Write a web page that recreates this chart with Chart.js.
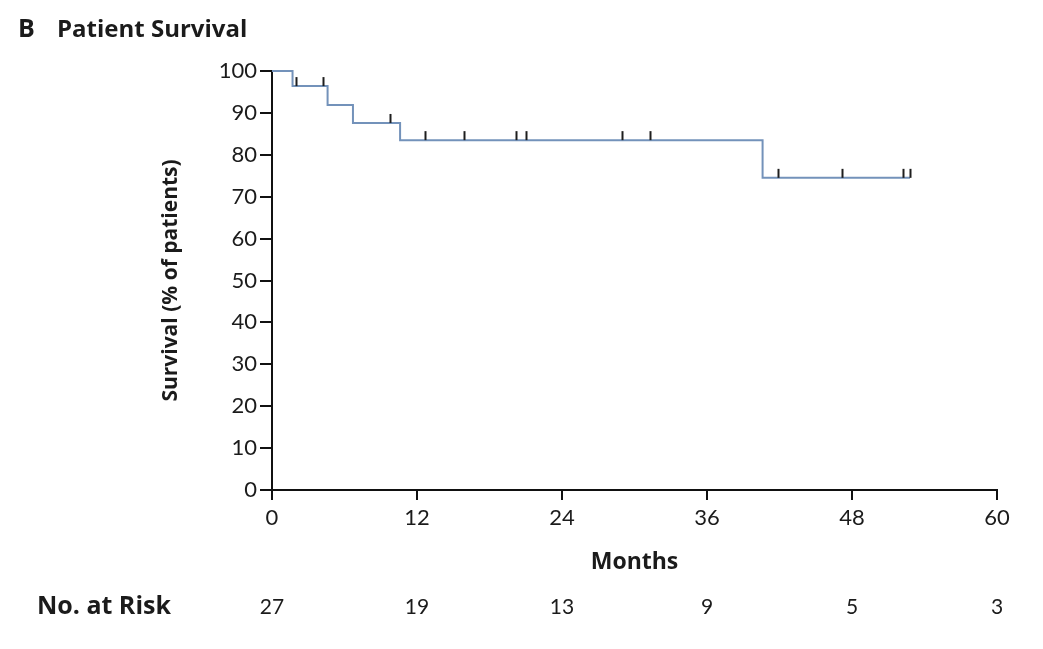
<!DOCTYPE html>
<html>
<head>
<meta charset="utf-8">
<script src="https://cdn.jsdelivr.net/npm/chart.js@4/dist/chart.umd.min.js"></script>
<style>
html,body{margin:0;padding:0;background:#fff;}
#wrap{width:1043px;height:649px;position:relative;}
</style>
</head>
<body>
<div id="wrap"><canvas id="c" width="1043" height="649"></canvas></div>
<script>
// Data
const eventMonths = [0, 1.7, 4.6, 6.7, 10.6, 40.6, 52.8];
const survivalPct = [100, 96.4, 91.9, 87.6, 83.5, 74.5, 74.5];
const censorMonths = [2.0, 4.2, 9.8, 12.7, 15.9, 20.2, 21.0, 29.0, 31.3, 41.9, 47.2, 52.2, 52.8];
const xTicks = [0, 12, 24, 36, 48, 60];
const yTicks = [0, 10, 20, 30, 40, 50, 60, 70, 80, 90, 100];
const atRiskMonths = [0, 12, 24, 36, 48, 60];
const atRiskCounts = [27, 19, 13, 9, 5, 3];

const TXT = '#1b1b1b';
const NUMFONT = 'Lato, "Open Sans", sans-serif';
const BOLDFONT = '"Open Sans", Lato, sans-serif';

function survAt(t){
  let v = survivalPct[0];
  for (let i=0;i<eventMonths.length;i++){ if (eventMonths[i] <= t) v = survivalPct[i]; }
  return v;
}

const extras = {
  id: 'extras',
  afterDatasetsDraw(chart){
    const ctx = chart.ctx, xs = chart.scales.x, ys = chart.scales.y;
    ctx.save();
    // censor marks
    ctx.strokeStyle = '#1e1e1e';
    ctx.lineWidth = 2;
    censorMonths.forEach(m => {
      const px = Math.round(xs.getPixelForValue(m)) + 0.5;
      const py = ys.getPixelForValue(survAt(m));
      ctx.beginPath();
      ctx.moveTo(px, py);
      ctx.lineTo(px, py - 9);
      ctx.stroke();
    });
    ctx.fillStyle = TXT;
    // Panel title
    ctx.textBaseline = 'middle';
    ctx.textAlign = 'left';
    ctx.font = 'bold 25px ' + BOLDFONT;
    ctx.fillText('B', 18, 30);
    ctx.font = 'bold 24px ' + BOLDFONT;
    ctx.fillText('Patient Survival', 57, 30);
    // y title
    ctx.save();
    ctx.translate(171, (ys.top + ys.bottom) / 2);
    ctx.rotate(-Math.PI/2);
    ctx.textAlign = 'center';
    ctx.font = 'bold 21px ' + BOLDFONT;
    ctx.fillText('Survival (% of patients)', 0, 0);
    ctx.restore();
    // x title
    ctx.textAlign = 'center';
    ctx.font = 'bold 23px ' + BOLDFONT;
    ctx.fillText('Months', (xs.left + xs.right) / 2, 562);
    // at-risk table
    ctx.textAlign = 'left';
    ctx.font = 'bold 25px ' + BOLDFONT;
    ctx.fillText('No. at Risk', 37, 607);
    ctx.textAlign = 'center';
    ctx.font = '21px ' + NUMFONT;
    atRiskMonths.forEach((m, i) => {
      ctx.fillText(String(atRiskCounts[i]), xs.getPixelForValue(m), 607);
    });
    ctx.restore();
  }
};

new Chart(document.getElementById('c'), {
  type: 'scatter',
  data: {
    datasets: [{
      type: 'line',
      data: eventMonths.map((m, i) => ({x: m, y: survivalPct[i]})),
      stepped: 'before',
      borderColor: '#7392ba',
      borderWidth: 2,
      pointRadius: 0,
      fill: false,
      clip: 6
    }]
  },
  options: {
    responsive: false,
    animation: false,
    devicePixelRatio: 1,
    layout: { padding: { left: 0, right: 46, top: 71, bottom: 119 } },
    plugins: { legend: { display: false }, tooltip: { enabled: false }, title: { display: false } },
    scales: {
      x: {
        type: 'linear', min: 0, max: 60,
        afterBuildTicks(s){ s.ticks = xTicks.map(v => ({value: v})); },
        afterFit(s){ s.height = 40; },
        grid: { display: true, drawOnChartArea: false, drawTicks: true, tickLength: 10, color: '#111', lineWidth: 2 },
        border: { display: true, color: '#111', width: 2 },
        ticks: { color: TXT, font: { family: NUMFONT, size: 22 }, padding: 5, maxRotation: 0 }
      },
      y: {
        type: 'linear', min: 0, max: 100,
        afterBuildTicks(s){ s.ticks = yTicks.map(v => ({value: v})); },
        afterFit(s){ s.width = 272; },
        grid: { display: true, drawOnChartArea: false, drawTicks: true, tickLength: 12, color: '#111', lineWidth: 2 },
        border: { display: true, color: '#111', width: 2 },
        ticks: { color: TXT, font: { family: NUMFONT, size: 22 }, padding: 3 }
      }
    }
  },
  plugins: [extras]
});
</script>
</body>
</html>
